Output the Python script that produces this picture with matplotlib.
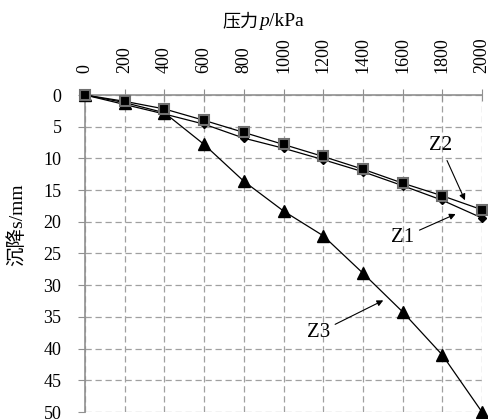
import matplotlib
matplotlib.use('Agg')
import matplotlib.pyplot as plt

serif = ['Liberation Serif', 'Noto Sans CJK SC']
plt.rcParams['font.family'] = serif

# 压力 (kPa) 与 沉降 (mm)
pressure = [0, 200, 400, 600, 800, 1000, 1200, 1400, 1600, 1800, 2000]
z1 = [0, 1.5, 3.0, 4.6, 6.8, 8.4, 10.2, 12.1, 14.3, 16.6, 19.4]
z2 = [0, 1.0, 2.2, 4.0, 5.9, 7.8, 9.7, 11.7, 13.9, 15.9, 18.1]
z3 = [0, 1.2, 2.8, 7.8, 13.6, 18.3, 22.2, 28.1, 34.2, 41.0, 50.0]

xticks = list(range(0, 2001, 200))
yticks = list(range(0, 51, 5))

fig = plt.figure(figsize=(4.88, 4.19), dpi=100)
ax = fig.add_axes([85 / 488, 7 / 419, 397 / 488, 317 / 419])

ax.plot(pressure, z1, color='black', lw=0.9, marker='D', ms=4,
        mfc='black', mec='black', zorder=3, clip_on=False)
ax.plot(pressure, z2, color='black', lw=0.9, marker='s', ms=7,
        mfc='black', mec='#707070', mew=1.5, zorder=4, clip_on=False)
ax.plot(pressure, z3, color='black', lw=0.9, marker='^', ms=8,
        mfc='black', mec='black', zorder=3, clip_on=False)

ax.set_xlim(0, 2000)
ax.set_ylim(50, 0)
ax.set_xticks(xticks)
ax.set_yticks(yticks)
ax.xaxis.tick_top()
ax.tick_params(axis='x', labelrotation=90, labelsize=13, direction='inout',
               length=8, color='#909090', pad=12)
ax.tick_params(axis='y', labelsize=13, direction='out', length=5,
               color='#909090', pad=12)
for lbl in ax.get_xticklabels():
    lbl.set_verticalalignment('bottom')

ax.grid(True, color='#a0a0a0', linestyle=(0, (5, 3)), lw=0.9)
ax.set_axisbelow(True)
for side in ['right', 'bottom']:
    ax.spines[side].set_visible(False)
for side in ['top', 'left']:
    ax.spines[side].set_color('#909090')
    ax.spines[side].set_linewidth(1.2)

# 横轴标题：压力p/kPa（p 为斜体）
t1 = fig.text(258 / 488, 1 - 26 / 419, '压力', fontsize=13, family=serif,
              ha='right', va='baseline')
t2 = ax.annotate('p', xy=(1, 0), xycoords=t1, xytext=(1, 0),
                 textcoords='offset points', fontsize=14, style='italic',
                 family='Liberation Serif', ha='left', va='bottom')
ax.annotate('/kPa', xy=(1, 0), xycoords=t2, fontsize=14,
            family='Liberation Serif', ha='left', va='bottom')

fig.text(17 / 488, 1 - 225 / 419, '沉降s/mm', fontsize=14, family=serif,
         rotation=90, ha='center', va='center')

arrow = dict(arrowstyle='-|>', color='black', lw=0.8, mutation_scale=9)
ax.annotate('Z2', xy=(1920, 17.0), xytext=(1790, 8.0), fontsize=15,
            ha='center', va='center', arrowprops=arrow)
ax.annotate('Z1', xy=(1880, 18.6), xytext=(1600, 22.5), fontsize=15,
            ha='center', va='center', arrowprops=arrow)
ax.annotate('Z3', xy=(1515, 32.2), xytext=(1175, 37.5), fontsize=15,
            ha='center', va='center', arrowprops=arrow)

fig.savefig('out.png', dpi=100)
